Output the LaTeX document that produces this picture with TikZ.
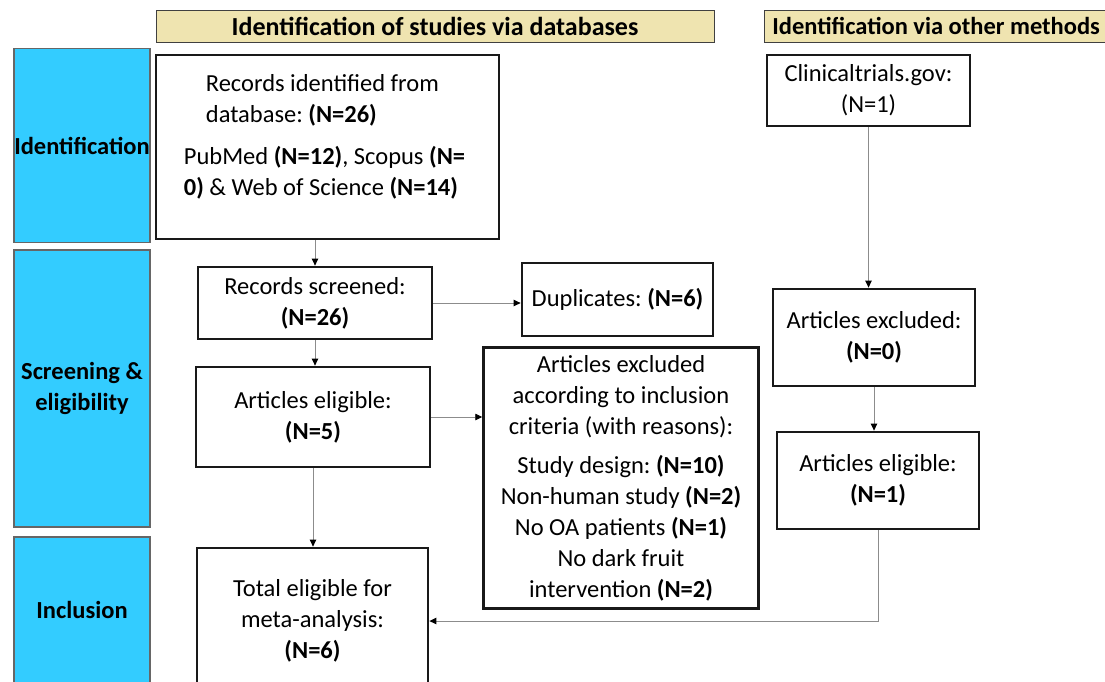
\documentclass[tikz,border=0pt]{standalone}
\usepackage{fontspec}
\setmainfont{Carlito}
\usepackage{tikz}
\usetikzlibrary{positioning,calc,arrows.meta}
\usepackage{xcolor}
\definecolor{stageblue}{HTML}{33CCFF}
\definecolor{hdrtan}{HTML}{EFE4B0}
\newcommand\flowfont{\fontsize{24.5}{31}\selectfont}
\frenchspacing

\begin{document}
\begin{tikzpicture}[
    x=1pt, y=-1pt,
    hdr/.style={fill=hdrtan, draw=black!75, line width=0.8pt, font=\fontsize{26}{31}\selectfont\bfseries, inner sep=0pt, minimum height=32pt},
    stage/.style={fill=stageblue, draw=black!60, line width=1.3pt, font=\flowfont\bfseries, align=center, inner sep=0pt, minimum width=136pt},
    flowbox/.style={draw=black!90, line width=2.8pt, font=\flowfont, align=center, inner sep=0pt},
    txt/.style={font=\flowfont, align=left, inner sep=0pt},
    conn/.style={-{Triangle[length=7pt, width=6.5pt, color=black]}, draw=black!45, line width=0.9pt},
]
\useasboundingbox[fill=white] (0,0) rectangle (1105,681);
% headers
\node[hdr, minimum width=558pt] (hdrA) at (435,26) {Identification of studies via databases};
\node[hdr, font=\flowfont\bfseries, anchor=west, minimum width=360pt] (hdrB) at (764,26) {\makebox[344pt][l]{Identification via other methods}};
% stages
\node[stage, minimum height=194pt] (stgA) at (82,145.5) {Identification};
\node[stage, minimum height=277pt] (stgB) at (82,388.5) {Screening \&\\eligibility};
\node[stage, minimum height=146pt] (stgC) at (82,610) {Inclusion};
% databases column
\node[flowbox, minimum width=343pt, minimum height=184pt] (idbox) at (327.5,147) {};
\node[txt] (idtxt) at (324.5,136.5) {\hspace*{22pt}Records identified from\\\hspace*{22pt}database: \textbf{(N=26)}\\[11pt]PubMed \textbf{(N=12)}, Scopus \textbf{(N=}\\\textbf{0)} \& Web of Science \textbf{(N=14)}};
\node[flowbox, minimum width=234pt, minimum height=72pt] (screened) at (315,303) {Records screened:\\\textbf{(N=26)}};
\node[flowbox, minimum width=191pt, minimum height=73pt] (dup) at (617.5,299.5) {Duplicates: \textbf{(N=6)}};
\node[flowbox, minimum width=234pt, minimum height=100pt] (eligA) at (313,417) {Articles eligible:\\\textbf{(N=5)}};
\node[flowbox, line width=2.5pt, minimum width=275pt, minimum height=261pt] (exclA) at (621,478) {Articles excluded\\according to inclusion\\criteria (with reasons):\\[8pt]Study design: \textbf{(N=10)}\\Non-human study \textbf{(N=2)}\\No OA patients \textbf{(N=1)}\\No dark fruit\\intervention \textbf{(N=2)}};
\node[flowbox, minimum width=231pt, minimum height=146pt] (total) at (312.5,621) {Total eligible for\\meta-analysis:\\\textbf{(N=6)}};
% other methods column
\node[flowbox, minimum width=203pt, minimum height=71pt] (clin) at (868.5,90.5) {Clinicaltrials.gov:\\(N=1)};
\node[flowbox, minimum width=202pt, minimum height=97pt] (exclB) at (874,337.5) {Articles excluded:\\\textbf{(N=0)}};
\node[flowbox, minimum width=202pt, minimum height=97pt] (eligB) at (878,480.5) {Articles eligible:\\\textbf{(N=1)}};
% connectors
\draw[conn] (screened.north |- idbox.south) -- (screened.north);
\draw[conn] (screened.east) -- (screened.east -| dup.west);
\draw[conn] (screened.south) -- (screened.south |- eligA.north);
\draw[conn] (eligA.east) -- (eligA.east -| exclA.west);
\draw[conn] (eligA.south) -- (eligA.south |- total.north);
\draw[conn] (clin.south) -- (clin.south |- exclB.north);
\draw[conn] (exclB.south) -- (exclB.south |- eligB.north);
\draw[conn] (eligB.south) |- (total.east);
\end{tikzpicture}
\end{document}
